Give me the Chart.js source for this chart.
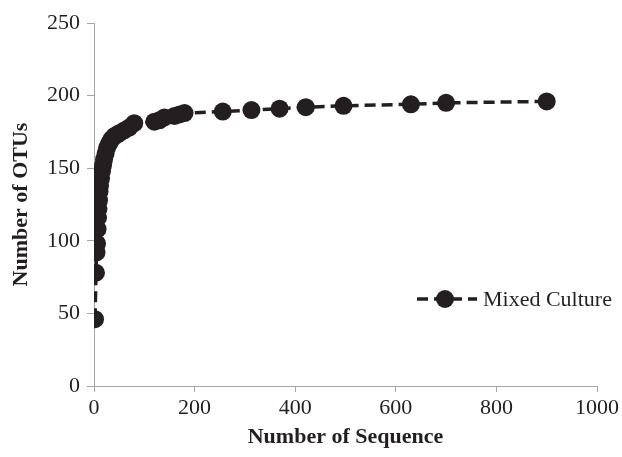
<!DOCTYPE html>
<html>
<head>
<meta charset="utf-8">
<script src="https://cdn.jsdelivr.net/npm/chart.js@4.4.0/dist/chart.umd.min.js"></script>
<style>
html,body{margin:0;padding:0;background:#fff;}
#wrap{width:622px;height:457px;position:relative;}
</style>
</head>
<body>
<div id="wrap"><canvas id="c"></canvas></div>
<script>
const seriesName = "Mixed Culture";
const sequences = [2, 4, 5, 6, 7, 8, 9, 10, 11, 12, 14, 16, 18, 20, 23, 26, 30, 35, 40, 45, 50, 60, 70, 80, 120, 130, 140, 160, 170, 180, 256, 313, 369, 421, 496, 630, 700, 900];
const otus = [46, 78, 92, 98, 108, 116, 122, 128, 134, 138, 143, 148, 152, 156, 160, 164, 167, 170, 172, 173, 174, 176, 178, 181, 182, 183, 185, 186, 187, 188, 189, 190, 191, 192, 193, 194, 195, 196];
const xTicks = [0, 200, 400, 600, 800, 1000];
const yTicks = [0, 50, 100, 150, 200, 250];
const xTitle = "Number of Sequence";
const yTitle = "Number of OTUs";

const INK = '#231f20';
const AXIS = '#a6a6a6';
const FONT = '"Liberation Serif", "Times New Roman", serif';

const legendPlugin = {
  id: 'customLegend',
  afterDraw(chart) {
    const ctx = chart.ctx;
    const y = 299;
    ctx.save();
    ctx.strokeStyle = INK;
    ctx.lineWidth = 3.5;
    ctx.setLineDash([11, 6]);
    ctx.beginPath();
    ctx.moveTo(417, y);
    ctx.lineTo(477, y);
    ctx.stroke();
    ctx.setLineDash([]);
    ctx.fillStyle = INK;
    ctx.beginPath();
    ctx.arc(445, y, 9, 0, Math.PI * 2);
    ctx.fill();
    ctx.font = '22px ' + FONT;
    ctx.textBaseline = 'middle';
    ctx.textAlign = 'left';
    ctx.fillText(seriesName, 483, y + 1);
    ctx.restore();
  }
};

new Chart(document.getElementById('c'), {
  type: 'line',
  data: {
    datasets: [{
      label: seriesName,
      data: sequences.map((x, i) => ({x: x, y: otus[i]})),
      borderColor: INK,
      backgroundColor: INK,
      borderWidth: 3.5,
      borderDash: [11, 6],
      pointRadius: 9,
      pointHoverRadius: 9,
      pointBackgroundColor: INK,
      pointBorderColor: INK,
      pointBorderWidth: 0,
      tension: 0,
      fill: false
    }]
  },
  options: {
    responsive: true,
    maintainAspectRatio: false,
    animation: false,
    events: [],
    layout: {padding: {left: 0, right: 24, top: 23, bottom: 0}},
    plugins: {legend: {display: false}, tooltip: {enabled: false}},
    scales: {
      x: {
        type: 'linear',
        min: 0, max: 1000,
        afterBuildTicks: (s) => { s.ticks = xTicks.map(v => ({value: v})); },
        afterFit: (s) => { s.height = 71; },
        grid: {drawOnChartArea: false, drawTicks: true, tickLength: 6, color: AXIS},
        border: {display: true, color: AXIS, width: 1},
        ticks: {color: INK, font: {family: FONT, size: 22}, padding: 3, maxRotation: 0, callback: (v) => String(v)},
        title: {display: true, text: xTitle, color: INK, font: {family: FONT, size: 22, weight: 'bold'}, padding: {top: 0, bottom: 6}}
      },
      y: {
        type: 'linear',
        min: 0, max: 250,
        afterBuildTicks: (s) => { s.ticks = yTicks.map(v => ({value: v})); },
        afterFit: (s) => { s.width = 94; },
        grid: {drawOnChartArea: false, drawTicks: true, tickLength: 7, color: AXIS},
        border: {display: true, color: AXIS, width: 1},
        ticks: {color: INK, font: {family: FONT, size: 22}, padding: 7, callback: (v) => String(v)},
        title: {display: true, text: yTitle, color: INK, font: {family: FONT, size: 22, weight: 'bold'}, padding: {top: 8, bottom: 0}}
      }
    }
  },
  plugins: [legendPlugin]
});
</script>
</body>
</html>
